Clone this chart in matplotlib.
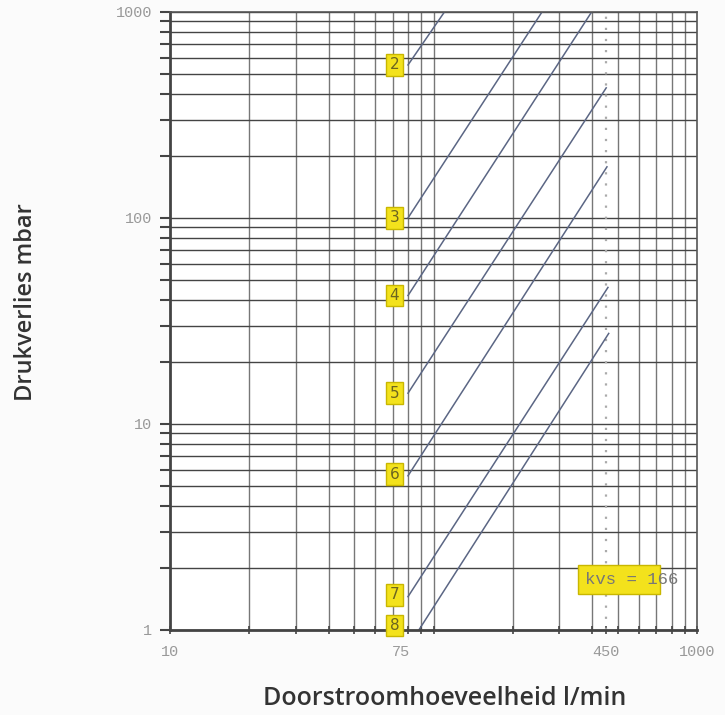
import numpy as np
import matplotlib.pyplot as plt
from matplotlib.patches import Rectangle

# valve presets: start and end points of each pressure-loss line
presets = ["2", "3", "4", "5", "6", "7", "8"]
q_start = [80, 80, 80, 80, 80, 80, 88]
dp_start = [553, 100, 42, 14.1, 5.6, 1.45, 1.0]
q_end = [110, 258, 398, 452, 455, 459, 462]
dp_end = [1000, 1000, 1000, 428, 177, 46, 27.5]

# positions of the yellow preset labels
label_q = 71
label_dp = [553, 100, 42, 14.1, 5.7, 1.48, 1.05]

x_ticks = [10, 75, 450, 1000]
x_grid = [20, 30, 40, 50, 60, 70, 80, 90, 100, 200, 300, 400, 500, 600, 700, 800, 900]
y_ticks = [1, 10, 100, 1000]
kvs_q = 450


def main():
    fig = plt.figure(figsize=(7.25, 7.15), dpi=100)
    ax = fig.add_axes([0.2345, 0.119, 0.727, 0.8643])
    ax.set_xscale("log")
    ax.set_yscale("log")
    ax.set_xlim(10, 1000)
    ax.set_ylim(1, 1000)

    ax.set_xticks(x_ticks)
    ax.set_xticklabels([str(v) for v in x_ticks])
    ax.set_xticks(x_grid, minor=True)
    ax.set_yticks(y_ticks)
    ax.set_yticklabels([str(v) for v in y_ticks])
    ax.xaxis.set_minor_formatter(plt.NullFormatter())
    ax.yaxis.set_minor_formatter(plt.NullFormatter())

    # grid: vertical lines only at the minor positions, horizontal at every step
    ax.xaxis.grid(True, which="minor", color="#777777", lw=1.0)
    ax.yaxis.grid(True, which="both", color="#444444", lw=1.0)
    ax.set_axisbelow(True)

    ax.axvline(kvs_q, color="#aaaaaa", lw=1.6, ls=(0, (1, 4)))

    for i in range(len(presets)):
        ax.plot([q_start[i], q_end[i]], [dp_start[i], dp_end[i]],
                color="#5b6684", lw=1.1, clip_on=True)
        ax.text(label_q, label_dp[i], presets[i], ha="center", va="center",
                fontsize=11, color="#6b6520", family="DejaVu Sans", zorder=5,
                bbox=dict(boxstyle="square,pad=0.22", fc="#f3e21c", ec="#c9b700", lw=1))

    # kvs box
    ax.add_patch(Rectangle((0.775, 0.058), 0.155, 0.047, transform=ax.transAxes,
                           fc="#f3e21c", ec="#c9b700", lw=1, zorder=5))
    ax.text(0.787, 0.081, "kvs = 166", transform=ax.transAxes, ha="left", va="center",
            fontsize=12.5, family="Liberation Mono", color="#777777", zorder=6)

    for lab in ax.get_xticklabels() + ax.get_yticklabels():
        lab.set_family("Liberation Mono")
        lab.set_fontsize(11)
        lab.set_color("#999999")
    ax.tick_params(axis="x", which="both", direction="inout", length=6, width=1.2,
                   color="#444444", pad=8)
    ax.tick_params(axis="y", which="both", direction="out", length=7, width=1.5,
                   color="#444444", pad=6)

    for side in ["left", "bottom"]:
        ax.spines[side].set_linewidth(2)
        ax.spines[side].set_color("#444444")
    for side in ["top", "right"]:
        ax.spines[side].set_linewidth(1.2)
        ax.spines[side].set_color("#555555")

    ax.set_xlabel("Doorstroomhoeveelheid l/min", family="Open Sans", fontsize=18,
                  weight="semibold", color="#333333")
    ax.set_ylabel("Drukverlies mbar", family="Open Sans", fontsize=17,
                  weight="semibold", color="#333333")
    ax.xaxis.set_label_coords(0.522, -0.09)
    ax.yaxis.set_label_coords(-0.25, 0.531)

    fig.savefig("out.png", dpi=100, facecolor="#fbfbfb")


if __name__ == "__main__":
    main()
